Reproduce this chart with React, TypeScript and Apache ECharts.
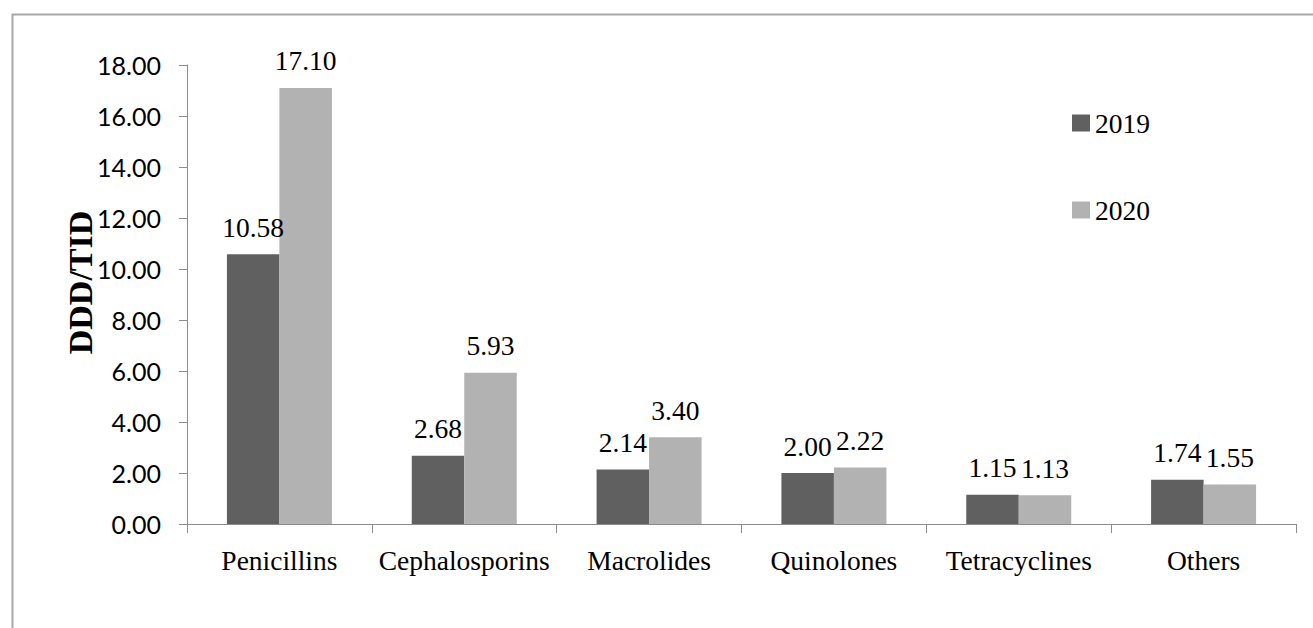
import React, { useEffect, useRef } from "react";
import * as echarts from "echarts";

const categories = ["Penicillins", "Cephalosporins", "Macrolides", "Quinolones", "Tetracyclines", "Others"];
const values2019 = [10.58, 2.68, 2.14, 2.0, 1.15, 1.74];
const values2020 = [17.1, 5.93, 3.4, 2.22, 1.13, 1.55];
const seriesNames = ["2019", "2020"];
const yTicks = { min: 0, max: 18, interval: 2 };

const serif = "'Liberation Serif', 'Times New Roman', serif";
const sans = "Lato, 'Open Sans', sans-serif";

export default function App() {
  const ref = useRef<HTMLDivElement>(null);
  useEffect(() => {
    if (!ref.current) return;
    const chart = echarts.init(ref.current, null, { renderer: "svg" });
    const label = {
      show: true,
      position: "top",
      distance: 13,
      fontFamily: serif,
      fontSize: 27.5,
      color: "#000",
      formatter: (p: any) => Number(p.value).toFixed(2),
    };
    chart.setOption({
      animation: false,
      backgroundColor: "#fff",
      graphic: [
        {
          type: "rect",
          left: 10,
          top: 12,
          shape: { x: 0, y: 0, width: 1400, height: 700 },
          style: { fill: "none", stroke: "#a8a8a8", lineWidth: 2 },
          silent: true,
        },
      ],
      grid: { left: 187, right: 17, top: 65, bottom: 104, containLabel: false },
      legend: {
        orient: "vertical",
        left: 1067,
        top: 104,
        itemGap: 59,
        itemWidth: 18,
        itemHeight: 17,
        icon: "rect",
        data: seriesNames,
        textStyle: { fontFamily: serif, fontSize: 27.5, color: "#000" },
      },
      xAxis: {
        type: "category",
        data: categories,
        axisLine: { lineStyle: { color: "#8c8c8c", width: 1 } },
        axisTick: { show: true, length: 9, lineStyle: { color: "#8c8c8c" } },
        axisLabel: { interval: 0, fontFamily: serif, fontSize: 27.5, color: "#000", margin: 22 },
      },
      yAxis: {
        type: "value",
        min: yTicks.min,
        max: yTicks.max,
        interval: yTicks.interval,
        name: "DDD/TID",
        nameLocation: "middle",
        nameMoveOverlap: false,
        nameGap: 90,
        nameTextStyle: {
          fontFamily: serif,
          fontSize: 34,
          fontWeight: "bold",
          color: "#000",
          padding: [0, 0, 0, 24],
        },
        axisLine: { show: true, lineStyle: { color: "#8c8c8c", width: 1 } },
        axisTick: { show: true, length: 8, lineStyle: { color: "#8c8c8c" } },
        splitLine: { show: false },
        axisLabel: {
          fontFamily: sans,
          fontSize: 25,
          color: "#000",
          margin: 26,
          formatter: (v: number) => v.toFixed(2),
        },
      },
      series: [
        {
          name: seriesNames[0],
          type: "bar",
          data: values2019,
          barWidth: 52.5,
          barGap: "0%",
          itemStyle: { color: "#606060" },
          label,
        },
        {
          name: seriesNames[1],
          type: "bar",
          data: values2020,
          barWidth: 52.5,
          barGap: "0%",
          itemStyle: { color: "#b2b2b2" },
          label,
        },
      ],
    });
    return () => chart.dispose();
  }, []);
  return (
    <div
      ref={ref}
      style={{ position: "fixed", left: 0, top: 0, width: 1313, height: 628, background: "#fff" }}
    />
  );
}
